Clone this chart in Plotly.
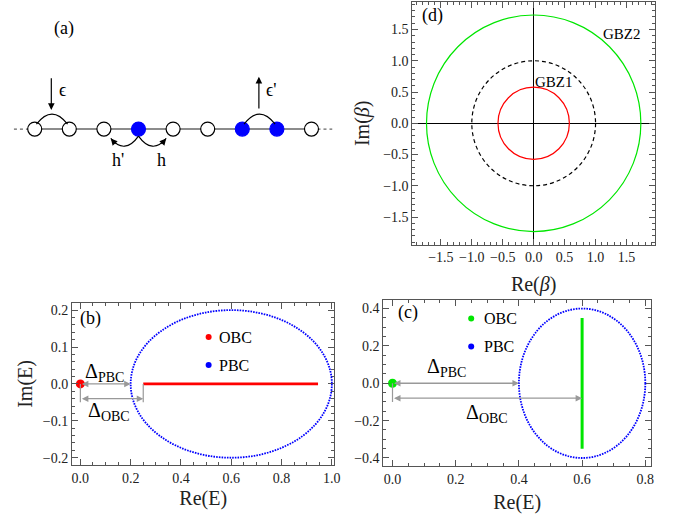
import plotly.graph_objects as go

# ---------------- data ----------------
# (a) lattice schematic: sites along the chain, 1 = occupied (blue)
site_index = [0, 1, 2, 3, 4, 5, 6, 7, 8]
site_occupied = [0, 0, 0, 1, 0, 0, 1, 1, 0]

# (d) generalized Brillouin zones (circles |beta| = r)
circle_names = ["GBZ1", "BZ", "GBZ2"]
circle_radii = [0.577, 1.0, 1.732]
d_ticks = [-1.5, -1.0, -0.5, 0.0, 0.5, 1.0, 1.5]

# (b) spectrum
b_zero_mode = [0.0, 0.0]            # Re, Im
b_obc_band_re = [0.25, 0.945]
b_obc_band_im = [0.0, 0.0]
b_pbc_center = [0.6, 0.0]
b_pbc_semiaxes = [0.4, 0.2]
b_gap_pbc = 0.2
b_gap_obc = 0.25
b_xticks = [0.0, 0.2, 0.4, 0.6, 0.8, 1.0]
b_yticks = [-0.2, -0.1, 0.0, 0.1, 0.2]

# (c) spectrum
c_zero_mode = [0.0, 0.0]
c_obc_band_re = [0.6, 0.6]
c_obc_band_im = [-0.35, 0.35]
c_pbc_center = [0.6, 0.0]
c_pbc_semiaxes = [0.2, 0.4]
c_gap_pbc = 0.4
c_gap_obc = 0.6
c_xticks = [0.0, 0.2, 0.4, 0.6, 0.8]
c_yticks = [-0.4, -0.2, 0.0, 0.2, 0.4]

# ---------------- style ----------------
FONT = "Liberation Serif"
FRAME = "#555555"
GRAY = "#999999"
RED = "#ff0000"
BLUE = "#0000ff"
GREEN = "#00e600"
W, H = 691, 523

fig = go.Figure()

# ---------- (a) ----------
fig.add_trace(go.Scatter(x=[site_index[0], site_index[-1]], y=[0, 0], mode="lines",
                         line=dict(color="#666666", width=1.5), xaxis="x", yaxis="y",
                         showlegend=False, hoverinfo="skip"))
fig.add_trace(go.Scatter(x=site_index, y=[0] * len(site_index), mode="markers",
                         marker=dict(size=14,
                                     color=[BLUE if o else "white" for o in site_occupied],
                                     line=dict(color=[BLUE if o else "black" for o in site_occupied], width=1.2)),
                         xaxis="x", yaxis="y", showlegend=False))

shapes = []
annotations = []

# dashed chain continuation
for x0, x1 in [(site_index[0] - 0.6, site_index[0]), (site_index[-1], site_index[-1] + 0.6)]:
    shapes.append(dict(type="line", xref="x", yref="y", x0=x0, x1=x1, y0=0, y1=0,
                       line=dict(color="#666666", width=1.2, dash="3px,3px"), layer="below"))

# arcs above (epsilon terms)
for a, b in [(0, 1), (6, 7)]:
    shapes.append(dict(type="path", xref="x", yref="y",
                       path=f"M {a+0.05},0.14 Q {(a+b)/2},0.72 {b-0.05},0.14",
                       line=dict(color="black", width=1.2)))
# arcs below (hoppings from site 3)
for end, ctrl in [(2.2, 2.6), (3.8, 3.4)]:
    shapes.append(dict(type="path", xref="x", yref="y",
                       path=f"M 3,-0.2 Q {ctrl},-0.75 {end},-0.27",
                       line=dict(color="black", width=1.2)))
for end, ax in [(2.2, 6), (3.8, -6)]:
    annotations.append(dict(x=end, y=-0.27, xref="x", yref="y", ax=ax, ay=7, text="",
                            showarrow=True, arrowhead=2, arrowsize=1.1, arrowwidth=1.2,
                            arrowcolor="black"))
# epsilon arrows
annotations.append(dict(x=0.48, y=0.55, ax=0.48, ay=1.5, xref="x", yref="y", axref="x", ayref="y",
                        text="", showarrow=True, arrowhead=2, arrowsize=1.1, arrowwidth=1.2,
                        arrowcolor="black"))
annotations.append(dict(x=6.48, y=1.5, ax=6.48, ay=0.55, xref="x", yref="y", axref="x", ayref="y",
                        text="", showarrow=True, arrowhead=2, arrowsize=1.1, arrowwidth=1.2,
                        arrowcolor="black"))
for txt, x, y in [("(a)", 0.86, 2.9), ("ϵ", 0.8, 1.13), ("ϵ'", 6.85, 1.13),
                  ("h'", 2.4, -0.9), ("h", 3.67, -0.9)]:
    annotations.append(dict(x=x, y=y, xref="x", yref="y", text=txt, showarrow=False,
                            font=dict(family=FONT, size=18, color="black")))

# ---------- (d) ----------
circle_styles = {"GBZ1": dict(color=RED, width=1.2),
                 "BZ": dict(color="black", width=1.2, dash="4px,3px"),
                 "GBZ2": dict(color=GREEN, width=1.2)}
for name, r in zip(circle_names, circle_radii):
    shapes.append(dict(type="circle", xref="x2", yref="y2", x0=-r, x1=r, y0=-r, y1=r,
                       line=circle_styles[name]))
for txt, x, y in [("(d)", -1.63, 1.73), ("GBZ2", 1.42, 1.435), ("GBZ1", 0.325, 0.663)]:
    annotations.append(dict(x=x, y=y, xref="x2", yref="y2", text=txt, showarrow=False,
                            font=dict(family=FONT, size=18 if txt == "(d)" else 15, color="black")))
# invisible trace to anchor axes
fig.add_trace(go.Scatter(x=[0], y=[0], mode="markers", marker=dict(size=1, opacity=0),
                         xaxis="x2", yaxis="y2", showlegend=False, hoverinfo="skip"))

# ---------- (b) & (c) ----------
def spectrum_panel(xa, ya, zero, band_re, band_im, center, semi, gap_pbc, gap_obc,
                   col, band_w, bar_depth, label, label_xy, leg_xy, leg_dy, leg_text_dx,
                   dp_xy, do_xy, obc_arrow_y):
    fig.add_trace(go.Scatter(x=band_re, y=band_im, mode="lines", line=dict(color=col, width=band_w),
                             xaxis=xa, yaxis=ya, showlegend=False))
    fig.add_trace(go.Scatter(x=[zero[0]], y=[zero[1]], mode="markers",
                             marker=dict(color=col, size=9), xaxis=xa, yaxis=ya, showlegend=False))
    # PBC ellipse (dotted)
    shapes.append(dict(type="circle", xref=xa, yref=ya,
                       x0=center[0] - semi[0], x1=center[0] + semi[0],
                       y0=center[1] - semi[1], y1=center[1] + semi[1],
                       line=dict(color=BLUE, width=1.8, dash="1.6px,1.1px")))
    # legend
    fig.add_trace(go.Scatter(x=[leg_xy[0], leg_xy[0]], y=[leg_xy[1], leg_xy[1] - leg_dy],
                             mode="markers", marker=dict(color=[col, BLUE], size=6),
                             xaxis=xa, yaxis=ya, showlegend=False))
    for i, t in enumerate(["OBC", "PBC"]):
        annotations.append(dict(x=leg_xy[0] + leg_text_dx, y=leg_xy[1] - i * leg_dy, xref=xa, yref=ya,
                                text=t, showarrow=False, xanchor="left",
                                font=dict(family=FONT, size=16, color="black")))
    # gap arrows
    annotations.append(dict(x=gap_pbc, y=0, ax=0, ay=0, xref=xa, yref=ya, axref=xa, ayref=ya,
                            text="", showarrow=True, arrowside="end+start", arrowhead=2,
                            arrowsize=1.0, arrowwidth=1.3, arrowcolor=GRAY))
    annotations.append(dict(x=gap_obc, y=obc_arrow_y, ax=0, ay=obc_arrow_y, xref=xa, yref=ya,
                            axref=xa, ayref=ya, text="", showarrow=True, arrowside="end+start",
                            arrowhead=2, arrowsize=1.0, arrowwidth=1.3, arrowcolor=GRAY))
    shapes.append(dict(type="line", xref=xa, yref=ya, x0=0, x1=0, y0=0, y1=-bar_depth,
                       line=dict(color=GRAY, width=1.2)))
    annotations.append(dict(x=dp_xy[0], y=dp_xy[1], xref=xa, yref=ya, showarrow=False,
                            text="Δ<sub>PBC</sub>", font=dict(family=FONT, size=20, color="black")))
    annotations.append(dict(x=do_xy[0], y=do_xy[1], xref=xa, yref=ya, showarrow=False,
                            text="Δ<sub>OBC</sub>", font=dict(family=FONT, size=20, color="black")))
    annotations.append(dict(x=label_xy[0], y=label_xy[1], xref=xa, yref=ya, showarrow=False,
                            text=label, font=dict(family=FONT, size=18, color="black")))


spectrum_panel("x3", "y3", b_zero_mode, b_obc_band_re, b_obc_band_im, b_pbc_center, b_pbc_semiaxes,
               b_gap_pbc, b_gap_obc, RED, 2.6, 0.05, "(b)", (0.042, 0.178), (0.51, 0.127), 0.076, 0.035,
               (0.094, 0.032), (0.114, -0.074), -0.04)
shapes.append(dict(type="line", xref="x3", yref="y3", x0=b_gap_obc, x1=b_gap_obc, y0=0, y1=-0.05,
                   line=dict(color=GRAY, width=1.2)))
spectrum_panel("x4", "y4", c_zero_mode, c_obc_band_re, c_obc_band_im, c_pbc_center, c_pbc_semiaxes,
               c_gap_pbc, c_gap_obc, GREEN, 3, 0.1, "(c)", (0.05, 0.38), (0.249, 0.347), 0.15, 0.035,
               (0.17, 0.084), (0.30, -0.162), -0.08)


def frame_axis(**kw):
    d = dict(showline=True, linecolor=FRAME, linewidth=1, mirror="ticks", ticks="inside",
             ticklen=6, tickcolor=FRAME, tickwidth=1, showgrid=False, zeroline=False,
             tickfont=dict(family=FONT, size=14, color="#222222"))
    d.update(kw)
    return d


def minor(step):
    return dict(ticks="inside", ticklen=3, tickcolor=FRAME, tickwidth=1, dtick=step, tick0=0,
                showgrid=False)


def fmt(vals):
    return [f"{v:.1f}".replace("-", "\u2212") for v in vals]


TFONT = dict(family=FONT, size=20, color="#222222")

fig.update_layout(
    width=W, height=H, margin=dict(l=0, r=0, t=0, b=0),
    paper_bgcolor="white", plot_bgcolor="white", showlegend=False,
    shapes=shapes, annotations=annotations,
    xaxis=dict(domain=[0, 340 / W], range=[-1.003, 8.739], visible=False, fixedrange=True),
    yaxis=dict(domain=[1 - 230 / H, 1], range=[-2.885, 3.705], visible=False, fixedrange=True),
    xaxis2=frame_axis(domain=[416 / W, 660.7 / W], range=[-1.96, 1.96], anchor="y2",
                      tickvals=d_ticks, ticktext=fmt(d_ticks), minor=minor(0.1),
                      zeroline=True, zerolinecolor="black", zerolinewidth=1,
                      title=dict(text="Re(<i>β</i>)", font=TFONT, standoff=12)),
    yaxis2=frame_axis(domain=[1 - 245 / H, 1 - 2 / H], range=[-1.94, 1.94], anchor="x2",
                      tickvals=d_ticks, ticktext=fmt(d_ticks), minor=minor(0.1),
                      zeroline=True, zerolinecolor="black", zerolinewidth=1,
                      title=dict(text="Im(<i>β</i>)", font=TFONT, standoff=8)),
    xaxis3=frame_axis(domain=[72.7 / W, 337.3 / W], range=[-0.033, 1.01], anchor="y3",
                      tickvals=b_xticks, ticktext=fmt(b_xticks), minor=minor(0.05),
                      title=dict(text="Re(E)", font=TFONT, standoff=6)),
    yaxis3=frame_axis(domain=[1 - 466 / H, 1 - 303.3 / H], range=[-0.22, 0.22], anchor="x3",
                      tickvals=b_yticks, ticktext=fmt(b_yticks), minor=minor(0.02),
                      title=dict(text="Im(E)", font=TFONT, standoff=4)),
    xaxis4=frame_axis(domain=[386.7 / W, 656.7 / W], range=[-0.029, 0.818], anchor="y4",
                      tickvals=c_xticks, ticktext=fmt(c_xticks), minor=minor(0.05),
                      title=dict(text="Re(E)", font=TFONT, standoff=8)),
    yaxis4=frame_axis(domain=[1 - 467.3 / H, 1 - 300.7 / H], range=[-0.445, 0.445], anchor="x4",
                      tickvals=c_yticks, ticktext=fmt(c_yticks), minor=minor(0.05)),
)

fig.write_html("out.html", config={"displayModeBar": False},
               post_script="document.body.style.margin='0px';")
